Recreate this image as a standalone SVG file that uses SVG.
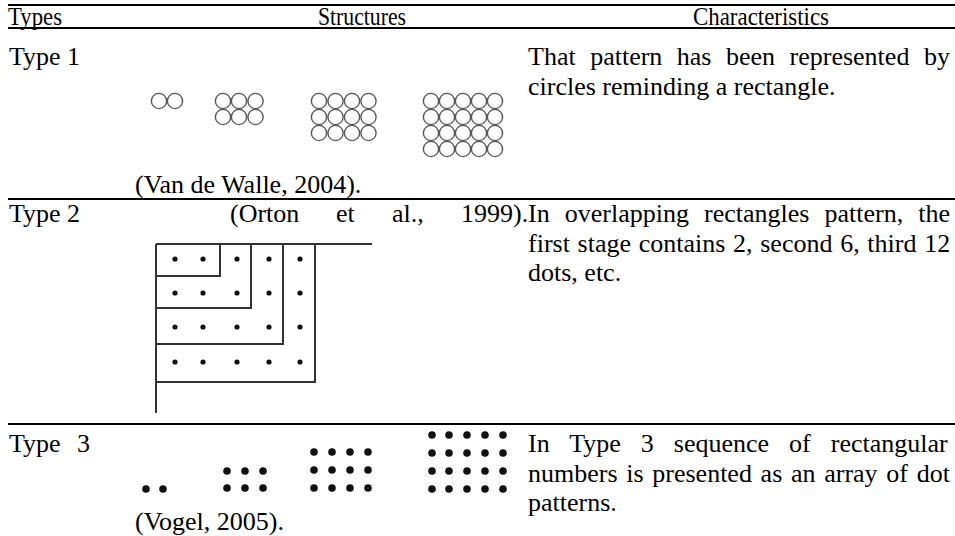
<svg xmlns="http://www.w3.org/2000/svg" width="955" height="536" viewBox="0 0 955 536">
<style>
text{font-family:"Liberation Serif","Times New Roman",serif;font-size:26px;fill:#000}
.hd{font-size:26px}
.rule{stroke:#000;stroke-width:2}
.oc{fill:none;stroke:#555;stroke-width:1.4}
.ln{fill:none;stroke:#333;stroke-width:2}
.sd{fill:#111}
.bd{fill:#111}
</style>
<rect width="955" height="536" fill="#fff"/>
<g id="rules">
<line class="rule" x1="8" y1="5" x2="955" y2="5"/>
<line class="rule" x1="8" y1="28" x2="955" y2="28"/>
<line class="rule" x1="8" y1="199" x2="955" y2="199"/>
<line class="rule" x1="8" y1="424" x2="955" y2="424"/>
</g>
<g id="header">
<text class="hd" x="8" y="25" textLength="54" lengthAdjust="spacingAndGlyphs">Types</text>
<text class="hd" x="318" y="25" textLength="88" lengthAdjust="spacingAndGlyphs">Structures</text>
<text class="hd" x="693" y="25" textLength="136" lengthAdjust="spacingAndGlyphs">Characteristics</text>
</g>
<g id="type1">
<text x="9" y="65">Type 1</text>
<text x="528" y="65" style="word-spacing:8px">That pattern has been represented by</text>
<text x="528" y="94.5">circles reminding a rectangle.</text>
<text x="135" y="193">(Van de Walle, 2004).</text>
<g id="circles">
<circle class="oc" cx="159" cy="101" r="7.6"/><circle class="oc" cx="175" cy="101" r="7.6"/>
<circle class="oc" cx="223" cy="101" r="7.6"/><circle class="oc" cx="239" cy="101" r="7.6"/><circle class="oc" cx="255.5" cy="101" r="7.6"/>
<circle class="oc" cx="223" cy="117" r="7.6"/><circle class="oc" cx="239" cy="117" r="7.6"/><circle class="oc" cx="255.5" cy="117" r="7.6"/>
<circle class="oc" cx="319" cy="101" r="7.6"/><circle class="oc" cx="335.5" cy="101" r="7.6"/><circle class="oc" cx="352" cy="101" r="7.6"/><circle class="oc" cx="368.5" cy="101" r="7.6"/>
<circle class="oc" cx="319" cy="117" r="7.6"/><circle class="oc" cx="335.5" cy="117" r="7.6"/><circle class="oc" cx="352" cy="117" r="7.6"/><circle class="oc" cx="368.5" cy="117" r="7.6"/>
<circle class="oc" cx="319" cy="133" r="7.6"/><circle class="oc" cx="335.5" cy="133" r="7.6"/><circle class="oc" cx="352" cy="133" r="7.6"/><circle class="oc" cx="368.5" cy="133" r="7.6"/>
<circle class="oc" cx="431" cy="101" r="7.6"/><circle class="oc" cx="447" cy="101" r="7.6"/><circle class="oc" cx="463" cy="101" r="7.6"/><circle class="oc" cx="479" cy="101" r="7.6"/><circle class="oc" cx="495" cy="101" r="7.6"/>
<circle class="oc" cx="431" cy="117" r="7.6"/><circle class="oc" cx="447" cy="117" r="7.6"/><circle class="oc" cx="463" cy="117" r="7.6"/><circle class="oc" cx="479" cy="117" r="7.6"/><circle class="oc" cx="495" cy="117" r="7.6"/>
<circle class="oc" cx="431" cy="133" r="7.6"/><circle class="oc" cx="447" cy="133" r="7.6"/><circle class="oc" cx="463" cy="133" r="7.6"/><circle class="oc" cx="479" cy="133" r="7.6"/><circle class="oc" cx="495" cy="133" r="7.6"/>
<circle class="oc" cx="431" cy="149" r="7.6"/><circle class="oc" cx="447" cy="149" r="7.6"/><circle class="oc" cx="463" cy="149" r="7.6"/><circle class="oc" cx="479" cy="149" r="7.6"/><circle class="oc" cx="495" cy="149" r="7.6"/>
</g>
</g>
<g id="type2">
<text x="9" y="222">Type 2</text>
<text y="222"><tspan x="230">(Orton</tspan><tspan x="336">et</tspan><tspan x="392">al.,</tspan><tspan x="461">1999).</tspan></text>
<text x="528" y="222" style="word-spacing:8.6px">In overlapping rectangles pattern, the</text>
<text x="528" y="251.5" style="word-spacing:1.2px">first stage contains 2, second 6, third 12</text>
<text x="528" y="281">dots, etc.</text>
<g id="rects">
<path class="ln" d="M156,244 H372 M156,244 V413"/>
<path class="ln" d="M220,244 V276 H156"/>
<path class="ln" d="M251,244 V308 H156"/>
<path class="ln" d="M283,244 V344 H156"/>
<path class="ln" d="M315,244 V382 H156"/>
<g class="sd">
<circle cx="175" cy="259" r="2.6"/><circle cx="203" cy="259" r="2.6"/><circle cx="237" cy="259" r="2.6"/><circle cx="269" cy="259" r="2.6"/><circle cx="300" cy="259" r="2.6"/>
<circle cx="175" cy="293" r="2.6"/><circle cx="203" cy="293" r="2.6"/><circle cx="237" cy="293" r="2.6"/><circle cx="269" cy="293" r="2.6"/><circle cx="300" cy="293" r="2.6"/>
<circle cx="175" cy="327" r="2.6"/><circle cx="203" cy="327" r="2.6"/><circle cx="237" cy="327" r="2.6"/><circle cx="269" cy="327" r="2.6"/><circle cx="300" cy="327" r="2.6"/>
<circle cx="175" cy="362" r="2.6"/><circle cx="203" cy="362" r="2.6"/><circle cx="237" cy="362" r="2.6"/><circle cx="269" cy="362" r="2.6"/><circle cx="300" cy="362" r="2.6"/>
</g>
</g>
</g>
<g id="type3">
<text y="452"><tspan x="9">Type</tspan><tspan x="77">3</tspan></text>
<text x="528" y="452" style="word-spacing:13.5px">In Type 3 sequence of rectangular</text>
<text x="528" y="481.5" style="word-spacing:2.2px">numbers is presented as an array of dot</text>
<text x="528" y="511">patterns.</text>
<text x="135" y="530">(Vogel, 2005).</text>
<g class="bd">
<circle cx="146" cy="489" r="3.8"/><circle cx="163" cy="489" r="3.8"/>
<circle cx="227" cy="471" r="3.8"/><circle cx="245" cy="471" r="3.8"/><circle cx="263" cy="471" r="3.8"/>
<circle cx="227" cy="488" r="3.8"/><circle cx="245" cy="488" r="3.8"/><circle cx="263" cy="488" r="3.8"/>
<circle cx="314" cy="452" r="3.8"/><circle cx="332" cy="452" r="3.8"/><circle cx="350" cy="452" r="3.8"/><circle cx="368" cy="452" r="3.8"/>
<circle cx="314" cy="470" r="3.8"/><circle cx="332" cy="470" r="3.8"/><circle cx="350" cy="470" r="3.8"/><circle cx="368" cy="470" r="3.8"/>
<circle cx="314" cy="488" r="3.8"/><circle cx="332" cy="488" r="3.8"/><circle cx="350" cy="488" r="3.8"/><circle cx="368" cy="488" r="3.8"/>
<circle cx="432" cy="435" r="3.8"/><circle cx="449" cy="435" r="3.8"/><circle cx="467" cy="435" r="3.8"/><circle cx="485" cy="435" r="3.8"/><circle cx="503" cy="435" r="3.8"/>
<circle cx="432" cy="453" r="3.8"/><circle cx="449" cy="453" r="3.8"/><circle cx="467" cy="453" r="3.8"/><circle cx="485" cy="453" r="3.8"/><circle cx="503" cy="453" r="3.8"/>
<circle cx="432" cy="471" r="3.8"/><circle cx="449" cy="471" r="3.8"/><circle cx="467" cy="471" r="3.8"/><circle cx="485" cy="471" r="3.8"/><circle cx="503" cy="471" r="3.8"/>
<circle cx="432" cy="489" r="3.8"/><circle cx="449" cy="489" r="3.8"/><circle cx="467" cy="489" r="3.8"/><circle cx="485" cy="489" r="3.8"/><circle cx="503" cy="489" r="3.8"/>
</g>
</g>
</svg>
